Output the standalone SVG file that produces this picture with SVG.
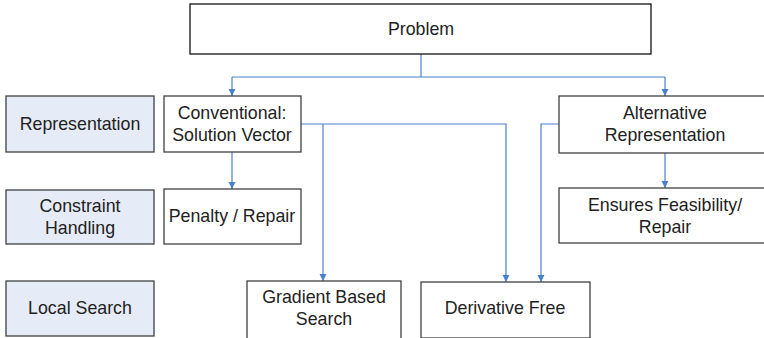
<svg xmlns="http://www.w3.org/2000/svg" width="764" height="338" viewBox="0 0 764 338">
<style>
.box{fill:#ffffff;stroke:#404040;stroke-width:1.3}
.lab{fill:#e6ecf7;stroke:#404040;stroke-width:1.3}
text{font-family:"Liberation Sans",Arial,sans-serif;font-size:17.8px;fill:#222;text-anchor:middle}
.c{fill:none;stroke:#4a7fcb;stroke-width:1.2}
</style>
<defs>
<marker id="d" markerWidth="8" markerHeight="8" refX="7" refY="4" orient="auto" markerUnits="userSpaceOnUse" viewBox="0 0 8 8">
<path d="M0,0.5 L7,4 L0,7.5 z" fill="#4a7fcb"/>
</marker>
</defs>
<g id="connectors">
<path class="c" d="M421,54 V77"/>
<path class="c" d="M232,77 H665"/>
<path class="c" d="M232,77 V96" marker-end="url(#d)"/>
<path class="c" d="M665,77 V96" marker-end="url(#d)"/>
<path class="c" d="M232,152 V189" marker-end="url(#d)"/>
<path class="c" d="M665,153 V188" marker-end="url(#d)"/>
<path class="c" d="M301,124 H506 V282" marker-end="url(#d)"/>
<path class="c" d="M323,124 V281" marker-end="url(#d)"/>
<path class="c" d="M559,124 H541 V282" marker-end="url(#d)"/>
</g>
<g id="problem"><rect class="box" x="190" y="4" width="461" height="50" style="stroke:#111"/><text x="421" y="35">Problem</text></g>
<g id="representation"><rect class="lab" x="6" y="96" width="148" height="56"/><text x="80" y="130">Representation</text></g>
<g id="constraint"><rect class="lab" x="6" y="190" width="148" height="54"/><text x="80" y="212">Constraint</text><text x="80" y="234">Handling</text></g>
<g id="localsearch"><rect class="lab" x="6" y="281" width="148" height="55"/><text x="80" y="314">Local Search</text></g>
<g id="conventional"><rect class="box" x="164" y="96" width="137" height="56"/><text x="232" y="119">Conventional:</text><text x="232" y="141">Solution Vector</text></g>
<g id="penalty"><rect class="box" x="164" y="189" width="137" height="55"/><text x="232" y="222">Penalty / Repair</text></g>
<g id="alternative"><rect class="box" x="559" y="96" width="210" height="57"/><text x="665" y="119">Alternative</text><text x="665" y="141">Representation</text></g>
<g id="feasibility"><rect class="box" x="559" y="188" width="210" height="55"/><text x="665" y="211">Ensures Feasibility/</text><text x="665" y="233">Repair</text></g>
<g id="gradient"><rect class="box" x="247" y="281" width="154" height="58"/><text x="324" y="303">Gradient Based</text><text x="324" y="325">Search</text></g>
<g id="derivfree"><rect class="box" x="421" y="282" width="169" height="56"/><text x="505" y="314">Derivative Free</text></g>
</svg>
